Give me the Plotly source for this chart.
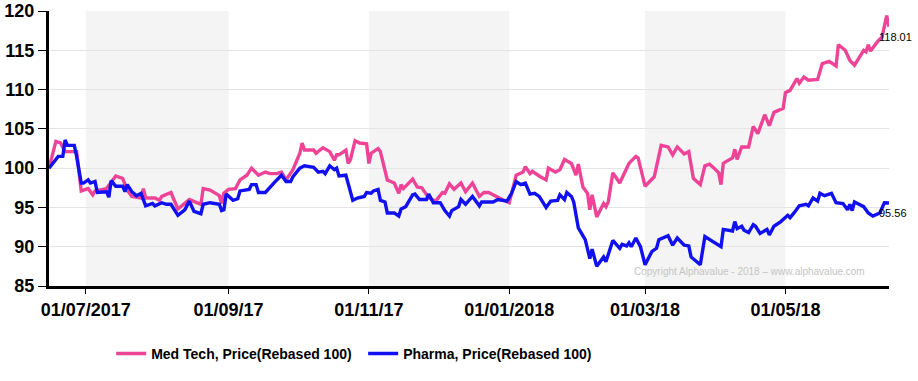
import plotly.graph_objects as go

med_dates = [
"2017-06-15","2017-06-18","2017-06-20","2017-06-22","2017-06-27","2017-06-29","2017-07-02","2017-07-04","2017-07-05","2017-07-10",
"2017-07-14","2017-07-17","2017-07-19","2017-07-21","2017-07-25","2017-07-26","2017-07-27","2017-07-31","2017-08-02","2017-08-03",
"2017-08-07","2017-08-10","2017-08-15","2017-08-18","2017-08-20","2017-08-21","2017-08-24","2017-08-28","2017-08-29","2017-08-30",
"2017-09-01","2017-09-04","2017-09-06","2017-09-09","2017-09-11","2017-09-14","2017-09-17","2017-09-19","2017-09-22","2017-09-24",
"2017-09-26","2017-09-29","2017-10-02","2017-10-03","2017-10-04","2017-10-08","2017-10-09","2017-10-12","2017-10-15","2017-10-17",
"2017-10-18","2017-10-19","2017-10-22","2017-10-23","2017-10-24","2017-10-26","2017-10-28","2017-10-31","2017-11-01","2017-11-02",
"2017-11-05","2017-11-06","2017-11-09","2017-11-12","2017-11-14","2017-11-15","2017-11-16","2017-11-20","2017-11-22","2017-11-24",
"2017-11-27","2017-11-30","2017-12-03","2017-12-04","2017-12-06","2017-12-08","2017-12-11","2017-12-13","2017-12-16","2017-12-19",
"2017-12-21","2017-12-23","2017-12-26","2017-12-29","2018-01-01","2018-01-04","2018-01-07","2018-01-08","2018-01-10","2018-01-11",
"2018-01-14","2018-01-17","2018-01-18","2018-01-21","2018-01-23","2018-01-25","2018-01-28","2018-01-30","2018-01-31","2018-02-02",
"2018-02-04","2018-02-05","2018-02-06","2018-02-08","2018-02-11","2018-02-12","2018-02-13","2018-02-15","2018-02-18","2018-02-22",
"2018-02-25","2018-02-26","2018-03-01","2018-03-05","2018-03-08","2018-03-11","2018-03-13","2018-03-15","2018-03-18","2018-03-20",
"2018-03-22","2018-03-25","2018-03-27","2018-03-29","2018-03-31","2018-04-02","2018-04-03","2018-04-04","2018-04-05","2018-04-08",
"2018-04-09","2018-04-10","2018-04-12","2018-04-15","2018-04-17","2018-04-19","2018-04-22","2018-04-24","2018-04-26","2018-04-30",
"2018-05-01","2018-05-03","2018-05-06","2018-05-07","2018-05-09","2018-05-11","2018-05-15","2018-05-17","2018-05-20","2018-05-23",
"2018-05-24","2018-05-27","2018-05-29","2018-05-31","2018-06-04","2018-06-05","2018-06-06","2018-06-07","2018-06-10","2018-06-12",
"2018-06-14","2018-06-15"]

med_vals = [
100.0, 103.4, 103.2, 102.1, 102.1, 97.1, 97.4, 96.6, 97.1, 97.4,
99.0, 98.7, 97.2, 96.4, 96.2, 97.4, 96.2, 96.2, 95.9, 96.4,
96.9, 94.8, 96.0, 95.7, 95.4, 97.4, 97.2, 96.5, 95.5, 96.8,
97.3, 97.4, 98.5, 99.1, 100.0, 99.1, 99.5, 99.3, 99.3, 99.5,
98.5, 99.8, 101.9, 103.2, 102.3, 102.3, 101.9, 102.6, 102.1, 101.0,
101.7, 101.7, 102.3, 100.6, 101.1, 103.5, 103.2, 103.1, 100.6, 101.9,
102.5, 102.1, 98.5, 98.1, 96.8, 97.9, 97.4, 98.6, 97.6, 97.5,
96.2, 95.8, 96.9, 96.8, 98.0, 97.3, 98.1, 97.0, 98.1, 96.4,
96.9, 96.9, 96.4, 96.0, 95.6, 99.1, 99.5, 100.2, 99.3, 99.6,
99.0, 98.5, 100.0, 99.5, 99.8, 101.1, 100.6, 99.1, 100.5, 97.6,
96.8, 94.7, 96.6, 93.8, 95.5, 95.1, 95.7, 99.4, 98.1, 100.6,
101.5, 101.3, 97.7, 98.9, 102.9, 102.7, 101.7, 102.7, 101.8, 102.1,
98.7, 97.9, 100.3, 100.5, 100.0, 99.4, 97.9, 100.6, 100.8, 101.3,
102.4, 101.1, 102.7, 102.7, 105.3, 104.4, 106.8, 105.4, 107.1, 107.6,
109.6, 109.9, 111.4, 110.8, 111.6, 111.2, 111.3, 113.3, 113.6, 113.0,
115.7, 115.0, 113.7, 113.1, 115.0, 114.8, 115.7, 114.9, 116.1, 116.7,
119.4, 118.01]

pharma_dates = [
"2017-06-15","2017-06-19","2017-06-21","2017-06-22","2017-06-23","2017-06-26","2017-06-27","2017-06-29","2017-06-30","2017-07-02",
"2017-07-03","2017-07-05","2017-07-06","2017-07-08","2017-07-10","2017-07-11","2017-07-12","2017-07-14","2017-07-17","2017-07-18",
"2017-07-19","2017-07-21","2017-07-23","2017-07-25","2017-07-27","2017-07-30","2017-07-31","2017-08-03","2017-08-05","2017-08-07",
"2017-08-10","2017-08-13","2017-08-15","2017-08-17","2017-08-20","2017-08-21","2017-08-24","2017-08-28","2017-08-29","2017-08-30",
"2017-08-31","2017-09-03","2017-09-05","2017-09-06","2017-09-10","2017-09-11","2017-09-13","2017-09-14","2017-09-17","2017-09-21",
"2017-09-24","2017-09-26","2017-09-28","2017-09-29","2017-10-02","2017-10-04","2017-10-08","2017-10-10","2017-10-12","2017-10-13",
"2017-10-15","2017-10-17","2017-10-18","2017-10-19","2017-10-22","2017-10-25","2017-10-27","2017-10-30","2017-10-31","2017-11-02",
"2017-11-03","2017-11-05","2017-11-06","2017-11-08","2017-11-09","2017-11-12","2017-11-14","2017-11-15","2017-11-17","2017-11-20",
"2017-11-21","2017-11-23","2017-11-26","2017-11-27","2017-11-29","2017-12-02","2017-12-04","2017-12-06","2017-12-07","2017-12-10",
"2017-12-11","2017-12-13","2017-12-16","2017-12-19","2017-12-20","2017-12-25","2017-12-27","2017-12-31","2018-01-02","2018-01-04",
"2018-01-06","2018-01-08","2018-01-10","2018-01-12","2018-01-14","2018-01-17","2018-01-19","2018-01-22","2018-01-23","2018-01-25",
"2018-01-26","2018-01-28","2018-01-29","2018-01-31","2018-02-03","2018-02-05","2018-02-06","2018-02-08","2018-02-11","2018-02-12",
"2018-02-14","2018-02-15","2018-02-18","2018-02-19","2018-02-21","2018-02-22","2018-02-23","2018-02-25","2018-02-27","2018-03-01",
"2018-03-04","2018-03-06","2018-03-07","2018-03-09","2018-03-11","2018-03-13","2018-03-15","2018-03-18","2018-03-20","2018-03-21",
"2018-03-25","2018-03-27","2018-03-31","2018-04-03","2018-04-04","2018-04-08","2018-04-09","2018-04-10","2018-04-12","2018-04-13",
"2018-04-15","2018-04-17","2018-04-18","2018-04-20","2018-04-23","2018-04-24","2018-04-26","2018-04-29","2018-05-02","2018-05-03",
"2018-05-05","2018-05-07","2018-05-10","2018-05-11","2018-05-13","2018-05-15","2018-05-16","2018-05-18","2018-05-21","2018-05-23",
"2018-05-26","2018-05-28","2018-05-29","2018-05-30","2018-05-31","2018-06-04","2018-06-06","2018-06-08","2018-06-11","2018-06-13",
"2018-06-15"]

pharma_vals = [
100.0, 101.5, 101.5, 103.6, 102.9, 102.9, 101.5, 98.1, 98.1, 98.5,
98.1, 98.3, 96.9, 97.0, 97.0, 96.3, 98.4, 97.7, 97.7, 97.0,
97.9, 97.0, 96.5, 96.8, 95.2, 95.5, 95.2, 95.6, 95.4, 95.4,
94.0, 94.7, 95.8, 94.5, 94.2, 95.4, 95.6, 95.4, 94.6, 94.7,
96.7, 95.9, 96.1, 97.1, 97.3, 97.9, 97.9, 96.9, 96.9, 98.2,
99.1, 98.3, 98.3, 98.9, 100.0, 100.3, 100.1, 99.5, 99.6, 99.3,
100.3, 99.8, 100.0, 99.0, 99.1, 95.9, 96.2, 96.4, 96.9, 96.8,
97.1, 97.3, 95.9, 95.7, 94.3, 94.3, 93.9, 94.8, 95.1, 96.6,
96.7, 96.0, 96.0, 96.7, 95.6, 95.6, 94.6, 93.9, 94.6, 95.1,
96.0, 95.4, 96.4, 95.2, 95.7, 95.7, 96.0, 95.8, 96.8, 98.3,
97.9, 98.1, 96.7, 96.8, 96.4, 95.0, 95.8, 95.9, 96.6, 96.0,
96.9, 96.4, 95.7, 92.4, 90.9, 88.5, 89.7, 87.5, 88.7, 88.1,
89.7, 90.8, 89.8, 90.3, 90.1, 90.5, 90.0, 91.1, 90.0, 87.7,
89.4, 89.8, 90.9, 91.2, 91.4, 90.2, 91.1, 90.2, 90.1, 88.7,
87.7, 91.3, 90.6, 90.0, 92.2, 92.0, 93.2, 92.3, 92.6, 92.1,
91.8, 92.8, 92.6, 91.7, 92.2, 91.5, 92.6, 93.2, 94.0, 93.7,
94.4, 95.2, 95.4, 95.2, 96.2, 95.8, 96.8, 96.5, 96.8, 95.6,
95.5, 94.7, 95.4, 94.6, 95.7, 95.1, 94.3, 93.9, 94.3, 95.6,
95.56]

series_names = ["Med Tech, Price(Rebased 100)", "Pharma, Price(Rebased 100)"]
series_colors = ["#ee4497", "#1010f0"]

x_tick_vals = ["2017-07-01", "2017-09-01", "2017-11-01", "2018-01-01", "2018-03-01", "2018-05-01"]
x_tick_text = ["01/07/2017", "01/09/17", "01/11/17", "01/01/2018", "01/03/18", "01/05/18"]
y_tick_vals = [85, 90, 95, 100, 105, 110, 115, 120]
x_range = ["2017-06-15", "2018-06-15"]
bands = [("2017-07-01", "2017-09-01"), ("2017-11-01", "2018-01-01"), ("2018-03-01", "2018-05-01")]
copyright_text = "Copyright Alphavalue - 2018 \u2013 www.alphavalue.com"

fig = go.Figure()
for d, v, n, c in [(med_dates, med_vals, series_names[0], series_colors[0]),
                   (pharma_dates, pharma_vals, series_names[1], series_colors[1])]:
    fig.add_trace(go.Scatter(x=d, y=v, mode="lines", name=n,
                             line=dict(color=c, width=3.4)))

for a, b in bands:
    fig.add_shape(type="rect", xref="x", yref="paper", x0=a, x1=b, y0=0, y1=1,
                  fillcolor="#f4f4f4", line=dict(width=0), layer="below")

for d, v in [(med_dates, med_vals), (pharma_dates, pharma_vals)]:
    fig.add_annotation(x=d[-1], y=v[-1], text=f"{v[-1]:.2f}", showarrow=False,
                       xanchor="left", yanchor="middle", xshift=-12, yshift=-10,
                       font=dict(family="Liberation Sans, Arial", size=11, color="black"))

fig.add_annotation(xref="paper", yref="paper", x=0.974, y=0.051, text=copyright_text,
                   showarrow=False, xanchor="right", yanchor="middle",
                   font=dict(family="Liberation Sans, Arial", size=10, color="#c4c4c4"))

tick_font = dict(family="Liberation Sans, Arial", size=18, color="black", weight="bold")

fig.update_layout(
    width=918, height=381,
    margin=dict(l=49, r=29, t=11, b=95, autoexpand=False),
    paper_bgcolor="white", plot_bgcolor="white",
    showlegend=True,
    legend=dict(orientation="h", x=0.074, xanchor="left", y=-0.247, yanchor="middle",
                entrywidth=207,
                font=dict(family="Liberation Sans, Arial", size=14, color="black", weight="bold"),
                bgcolor="rgba(0,0,0,0)"),
    xaxis=dict(type="date", range=x_range, tickvals=x_tick_vals, ticktext=x_tick_text,
               automargin=False,
               showgrid=False, zeroline=False, showline=True, linecolor="black", linewidth=3,
               ticks="outside", ticklen=5, tickwidth=1, tickcolor="black", tickfont=tick_font),
    yaxis=dict(range=[85, 120], tickvals=y_tick_vals, showgrid=True, gridcolor="#e4e4e4",
               automargin=False,
               gridwidth=1, zeroline=False, showline=True, linecolor="black", linewidth=3,
               ticks="outside", ticklen=8, tickwidth=1, tickcolor="black", tickfont=tick_font),
)

# remove the default 8px page margin so the 918x381 figure fills the window
fig.write_html("out.html", config={"displayModeBar": False},
               post_script="document.body.style.margin='0px';document.body.style.overflow='hidden';")
